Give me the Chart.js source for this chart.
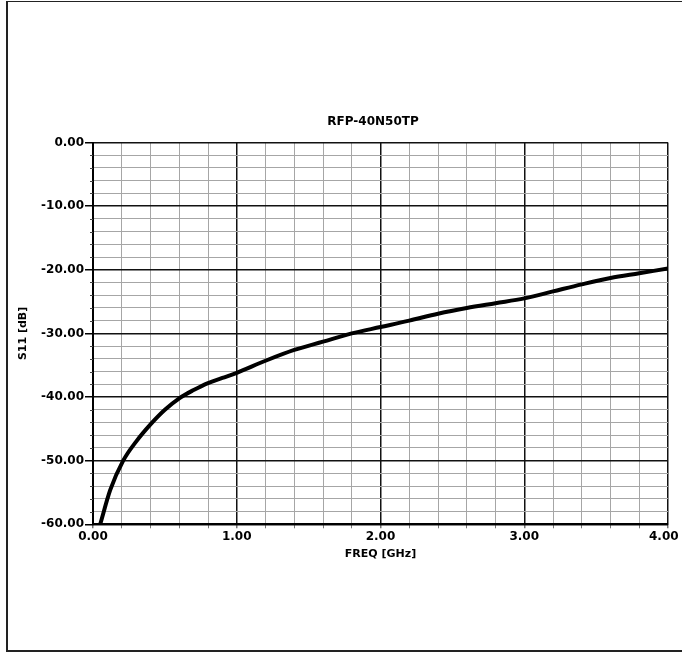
<html>
<head>
  <meta charset="utf-8">
  <script src="https://cdn.jsdelivr.net/npm/chart.js@4.4.0/dist/chart.umd.min.js"></script>
  <style>
    body { margin: 0; overflow: hidden; background: #fff; }
    .frame {
      position: absolute;
      left: 6px;
      top: 1px;
      width: 720px;
      height: 648px;
      border-left: 2px solid #222;
      border-top: 1px solid #222;
      border-bottom: 2px solid #222;
    }
    #myChart { position: absolute; left: 0; top: 0; }
  </style>
</head>
<body>
<div class="frame"></div>
<canvas id="myChart" width="682" height="652"></canvas>
<script>
  // S11
  var freqGHz = [0.05, 0.12, 0.21, 0.3, 0.4, 0.5, 0.6, 0.7, 0.8, 0.9, 1.0, 1.2, 1.4, 1.6, 1.8, 2.0,
                 2.2, 2.4, 2.6, 2.8, 3.0, 3.2, 3.4, 3.6, 3.8, 4.0];
  var s11dB = [-60, -54.6, -50, -47.0, -44.3, -42.0, -40.2, -38.9, -37.8, -37.0, -36.2, -34.3, -32.6, -31.3, -30.0, -29.0,
               -28.0, -26.9, -26.0, -25.25, -24.5, -23.4, -22.3, -21.3, -20.55, -19.8];
  var chartTitle = 'RFP-40N50TP';
  var xTitle = 'FREQ [GHz]';
  var yTitle = 'S11 [dB]';

  var fontFam = '"DejaVu Sans", Verdana, sans-serif';

  function isMajor(v, step) {
    return Math.abs(v / step - Math.round(v / step)) < 1e-6;
  }

  // title + short minor ticks on the y axis
  var extras = {
    id: 'extras',
    afterDraw: function (chart) {
      var ctx = chart.ctx, y = chart.scales.y, area = chart.chartArea;
      ctx.save();
      ctx.strokeStyle = '#444';
      ctx.lineWidth = 1;
      y.ticks.forEach(function (t) {
        if (isMajor(t.value, 10)) return;
        var py = Math.round(y.getPixelForValue(t.value)) + 0.5;
        ctx.beginPath();
        ctx.moveTo(area.left - 3, py);
        ctx.lineTo(area.left, py);
        ctx.stroke();
      });
      ctx.fillStyle = '#000';
      ctx.font = 'bold 12px ' + fontFam;
      ctx.textAlign = 'center';
      ctx.textBaseline = 'middle';
      ctx.fillText(chartTitle, 373, 122);
      ctx.restore();
    }
  };

  var points = freqGHz.map(function (f, i) { return { x: f, y: s11dB[i] }; });

  var chart = new Chart(document.getElementById('myChart').getContext('2d'), {
    type: 'line',
    data: {
      datasets: [{
        data: points,
        borderColor: '#000',
        borderWidth: 4,
        pointRadius: 0,
        fill: false,
        cubicInterpolationMode: 'monotone'
      }]
    },
    options: {
      responsive: false,
      animation: false,
      devicePixelRatio: 1,
      layout: { padding: { left: 0, top: 142.5, right: 14, bottom: 0 } },
      plugins: { legend: { display: false }, tooltip: { enabled: false } },
      scales: {
        x: {
          type: 'linear',
          min: 0,
          max: 4,
          afterFit: function (s) { s.height = 127.7; s.paddingRight = 0; s.paddingLeft = 0; },
          border: { color: '#000', width: 2 },
          grid: {
            tickLength: 4,
            color: function (c) { return isMajor(c.tick.value, 1) ? '#111' : '#a6a6a6'; },
            lineWidth: function (c) { return isMajor(c.tick.value, 1) ? 1.5 : 1; },
            tickColor: '#777'
          },
          ticks: {
            stepSize: 0.2,
            autoSkip: false,
            maxRotation: 0,
            padding: 1,
            color: '#000',
            font: { family: fontFam, size: 12, weight: 'bold' },
            callback: function (v) {
              if (!isMajor(v, 1)) return '';
              // last label sits a little inside the edge, as in the original
              return v >= 4 ? Number(v).toFixed(2) + '  ' : Number(v).toFixed(2);
            }
          },
          title: {
            display: true,
            text: xTitle,
            color: '#000',
            font: { family: fontFam, size: 11, weight: 'bold' },
            padding: { top: 0, bottom: 91.4 }
          }
        },
        y: {
          min: -60,
          max: 0,
          afterFit: function (s) { s.width = 93; },
          border: { color: '#000', width: 2 },
          grid: {
            tickLength: 8,
            color: function (c) { return isMajor(c.tick.value, 10) ? '#111' : '#a6a6a6'; },
            lineWidth: function (c) { return isMajor(c.tick.value, 10) ? 1.5 : 1; },
            tickColor: function (c) { return isMajor(c.tick.value, 10) ? '#000' : 'transparent'; }
          },
          ticks: {
            stepSize: 2,
            autoSkip: false,
            padding: 1,
            color: '#000',
            font: { family: fontFam, size: 12, weight: 'bold' },
            callback: function (v) { return isMajor(v, 10) ? Number(v).toFixed(2) : ''; }
          },
          title: {
            display: true,
            text: yTitle,
            color: '#000',
            font: { family: fontFam, size: 11, weight: 'bold' },
            padding: { top: 16.4, bottom: 0 }
          }
        }
      }
    },
    plugins: [extras]
  });
</script>
</body>
</html>
